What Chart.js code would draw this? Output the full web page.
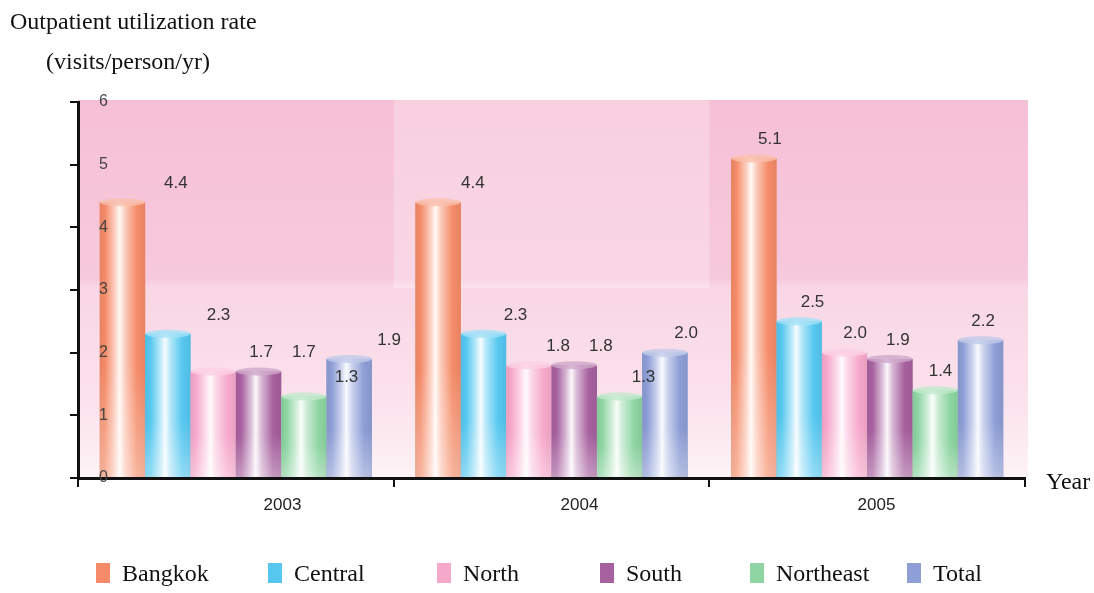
<!DOCTYPE html>
<html>
<head>
<meta charset="utf-8">
<title>Outpatient utilization rate</title>
<script src="https://cdn.jsdelivr.net/npm/chart.js@4.4.1/dist/chart.umd.min.js"></script>
<style>
  body { margin: 0; background: #fff; }
  #wrap { position: relative; width: 1094px; height: 593px; }
  .serif { position: absolute; font-family: "Liberation Serif", "DejaVu Serif", serif; font-size: 24px; color: #111; white-space: nowrap; line-height: 28px; }
  #legend { position: absolute; left: 96px; top: 559px; height: 28px; display: grid; grid-template-columns: 172px 169px 163px 150px 157px auto; }
  .item { display: flex; align-items: center; font-family: "Liberation Serif", serif; font-size: 24px; color: #111; white-space: nowrap; }
  .item span.box { display: inline-block; width: 14px; height: 20px; margin-right: 12px; }
</style>
</head>
<body>
<div id="wrap">
  <canvas id="myChart" width="1094" height="593"></canvas>
  <div class="serif" style="left:10px; top:7px;">Outpatient utilization rate</div>
  <div class="serif" style="left:46px; top:47px;">(visits/person/yr)</div>
  <div class="serif" style="left:1046px; top:467px;">Year</div>
  <div id="legend"></div>
</div>
<script>
const years = ['2003', '2004', '2005'];
const regions = ['Bangkok', 'Central', 'North', 'South', 'Northeast', 'Total'];
const bangkok = [4.4, 4.4, 5.1];
const central = [2.3, 2.3, 2.5];
const north = [1.7, 1.8, 2.0];
const south = [1.7, 1.8, 1.9];
const northeast = [1.3, 1.3, 1.4];
const total = [1.9, 2.0, 2.2];
const yTicks = [0, 1, 2, 3, 4, 5, 6];

const colors = ['#f58b68', '#56c8f0', '#f7a9cc', '#a7619f', '#8fd5a3', '#8e9ed6'];
const series = [bangkok, central, north, south, northeast, total];

// mix a hex colour with white (t>0) or black (t<0)
function mix(hex, t) {
    const n = parseInt(hex.slice(1), 16);
    let r = n >> 16, g = (n >> 8) & 255, b = n & 255;
    const to = t > 0 ? 255 : 0, k = Math.abs(t);
    r = Math.round(r + (to - r) * k);
    g = Math.round(g + (to - g) * k);
    b = Math.round(b + (to - b) * k);
    return `rgb(${r},${g},${b})`;
}

// labels lean to the right, more so on the left of the plot
function drift(a, x) {
    return 56 * (a.right - x) / (a.right - a.left);
}

// pink backdrop behind the plot area
const backdrop = {
    id: 'backdrop',
    beforeDraw(chart) {
        const {ctx, chartArea: a, scales: {x}} = chart;
        const g = ctx.createLinearGradient(0, a.top, 0, a.bottom);
        g.addColorStop(0, '#f6c0d6');
        g.addColorStop(0.47, '#f7c9dc');
        g.addColorStop(0.49, '#f9d6e5');
        g.addColorStop(0.8, '#fbe2ec');
        g.addColorStop(1, '#fdf3f7');
        ctx.save();
        ctx.fillStyle = g;
        ctx.fillRect(a.left, a.top - 2, a.right - a.left + 3, a.bottom - a.top + 2);
        // lighter middle band
        const step = (a.right - a.left) / years.length;
        ctx.fillStyle = 'rgba(255,255,255,0.25)';
        ctx.fillRect(x.getPixelForValue(1) - step / 2, a.top - 2, step, (a.bottom - a.top) / 2);
        ctx.restore();
    }
};

// cylinder shading, top caps and value labels
const cylinders = {
    id: 'cylinders',
    afterDatasetsDraw(chart) {
        const {ctx, chartArea: a} = chart;
        ctx.save();
        chart.data.datasets.forEach((ds, di) => {
            const base = colors[di];
            chart.getDatasetMeta(di).data.forEach((bar) => {
                const {x, y, base: b, width: w} = bar.getProps(['x', 'y', 'base', 'width'], true);
                const l = x - w / 2;
                const g = ctx.createLinearGradient(l, 0, l + w, 0);
                g.addColorStop(0, mix(base, -0.06));
                g.addColorStop(0.12, base);
                g.addColorStop(0.32, mix(base, 0.55));
                g.addColorStop(0.44, mix(base, 0.95));
                g.addColorStop(0.56, mix(base, 0.55));
                g.addColorStop(0.82, base);
                g.addColorStop(1, mix(base, -0.06));
                ctx.fillStyle = g;
                ctx.fillRect(l, y, w, b - y);
                // paler towards the floor
                const v = ctx.createLinearGradient(0, y, 0, b);
                v.addColorStop(0, 'rgba(255,255,255,0)');
                v.addColorStop(0.6, 'rgba(255,255,255,0)');
                v.addColorStop(1, 'rgba(255,255,255,0.35)');
                ctx.fillStyle = v;
                ctx.fillRect(l, y, w, b - y);
                // top cap
                ctx.beginPath();
                ctx.ellipse(x, y, w / 2, 4, 0, 0, Math.PI * 2);
                ctx.fillStyle = mix(base, 0.45);
                ctx.globalAlpha = 0.8;
                ctx.fill();
                ctx.globalAlpha = 1;
            });
        });
        ctx.font = '17px "Liberation Sans", Arial, sans-serif';
        ctx.fillStyle = '#333';
        ctx.textAlign = 'center';
        ctx.textBaseline = 'middle';
        chart.data.datasets.forEach((ds, di) => {
            chart.getDatasetMeta(di).data.forEach((bar, i) => {
                const {x, y} = bar.getProps(['x', 'y'], true);
                ctx.fillText(ds.data[i].toFixed(1), x + drift(a, x), y - 19);
            });
        });
        ctx.restore();
    },
    // year labels under the axis, with the same lean
    afterDraw(chart) {
        const {ctx, chartArea: a, scales: {x}} = chart;
        ctx.save();
        ctx.font = '17px "Liberation Sans", Arial, sans-serif';
        ctx.fillStyle = '#222';
        ctx.textAlign = 'center';
        ctx.textBaseline = 'top';
        years.forEach((yr, i) => {
            const px = x.getPixelForValue(i);
            ctx.fillText(yr, px + drift(a, px), a.bottom + 19);
        });
        ctx.restore();
    }
};

const ctx = document.getElementById('myChart').getContext('2d');
new Chart(ctx, {
    type: 'bar',
    data: {
        labels: years,
        datasets: regions.map((r, i) => ({
            label: r,
            data: series[i],
            backgroundColor: colors[i],
            borderWidth: 0,
            barPercentage: 1,
            categoryPercentage: 0.862
        }))
    },
    options: {
        responsive: false,
        animation: false,
        layout: { padding: { top: 102, right: 69, bottom: 0, left: 0 } },
        plugins: { legend: { display: false }, tooltip: { enabled: false } },
        scales: {
            x: {
                afterFit: (s) => { s.height = 115; },
                grid: { z: 1, offset: true, drawOnChartArea: false, drawTicks: true, tickLength: 9, color: '#111', lineWidth: 2 },
                border: { z: 1, color: '#111', width: 3 },
                ticks: { display: false }
            },
            y: {
                min: 0,
                max: 6,
                afterFit: (s) => { s.width = 78; },
                afterBuildTicks: (s) => { s.ticks = yTicks.map(v => ({ value: v })); },
                grid: { z: 1, drawOnChartArea: false, drawTicks: true, tickLength: 8, color: '#111', lineWidth: 2 },
                border: { z: 1, color: '#111', width: 3 },
                ticks: { z: 1, mirror: true, padding: 21, color: '#444', font: { family: '"Liberation Sans", Arial, sans-serif', size: 16 } }
            }
        }
    },
    plugins: [backdrop, cylinders]
});

// legend built from the same region names and colours
const legend = document.getElementById('legend');
regions.forEach((r, i) => {
    const item = document.createElement('div');
    item.className = 'item';
    item.innerHTML = `<span class="box" style="background:${colors[i]}"></span>${r}`;
    legend.appendChild(item);
});
</script>
</body>
</html>
